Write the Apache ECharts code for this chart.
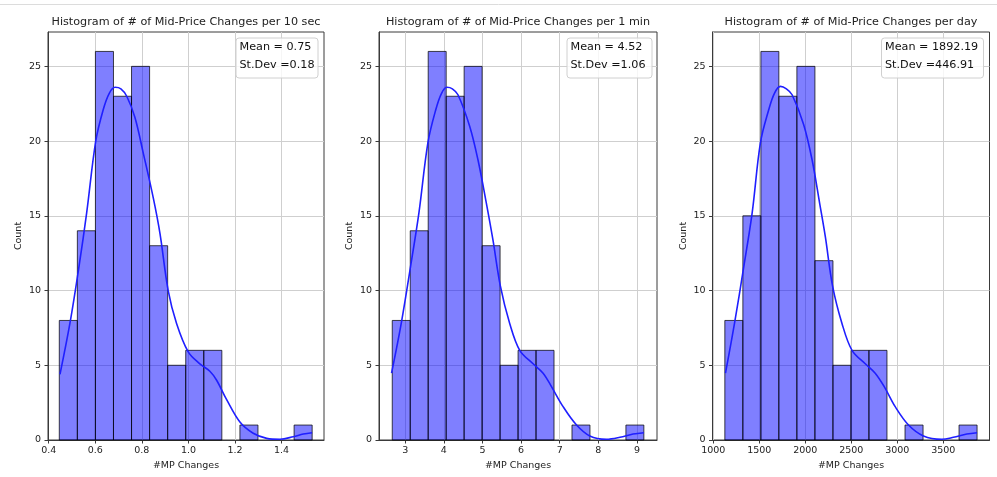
<!DOCTYPE html>
<html><head><meta charset="utf-8">
<script src="https://cdn.jsdelivr.net/npm/echarts@6/dist/echarts.min.js"></script>
<style>html,body{margin:0;padding:0;background:#fff}#c{width:997px;height:477px}</style>
</head><body><div id="c"></div>
<script>
// ---- data ----
const titles = [
  "Histogram of # of Mid-Price Changes per 10 sec",
  "Histogram of # of Mid-Price Changes per 1 min",
  "Histogram of # of Mid-Price Changes per day"
];
const statMean = ["Mean = 0.75", "Mean = 4.52", "Mean = 1892.19"];
const statStd = ["St.Dev =0.18", "St.Dev =1.06", "St.Dev =446.91"];

const edges10s = [0.4455, 0.5230, 0.6006, 0.6781, 0.7557, 0.8332, 0.9108, 0.9883, 1.0659, 1.1434, 1.2210, 1.2985, 1.3761, 1.4536, 1.5312];
const counts10s = [8, 14, 26, 23, 25, 13, 5, 6, 6, 0, 1, 0, 0, 1];
const edges1m = [2.663, 3.129, 3.594, 4.060, 4.525, 4.991, 5.456, 5.922, 6.387, 6.853, 7.318, 7.784, 8.249, 8.715, 9.180];
const counts1m = [8, 14, 26, 23, 25, 13, 5, 6, 6, 0, 1, 0, 0, 1];
const edgesDay = [1126, 1322, 1518, 1713, 1909, 2105, 2301, 2497, 2692, 2888, 3084, 3280, 3476, 3671, 3867];
const countsDay = [8, 15, 26, 23, 25, 12, 5, 6, 6, 0, 1, 0, 0, 1];

const kdeX10s = [0.4485, 0.491, 0.530, 0.563, 0.602, 0.634, 0.660, 0.685, 0.710, 0.735, 0.770, 0.806, 0.849, 0.878, 0.913, 0.949, 0.999, 1.049, 1.092, 1.121, 1.164, 1.221, 1.278, 1.336, 1.393, 1.450, 1.493, 1.531];
const kdeY10s = [4.4, 7.8, 11.6, 15.2, 20.0, 22.1, 23.2, 23.6, 23.5, 23.0, 21.6, 19.2, 16.2, 13.8, 10.0, 7.8, 5.9, 5.1, 4.6, 4.0, 2.7, 1.2, 0.45, 0.11, 0.05, 0.22, 0.4, 0.49];
const kdeX1m = [2.645, 2.896, 3.137, 3.354, 3.587, 3.79, 3.94, 4.08, 4.22, 4.365, 4.668, 4.883, 5.10, 5.27, 5.464, 5.705, 5.965, 6.31, 6.57, 6.787, 7.088, 7.436, 7.78, 8.21, 8.56, 8.90, 9.18];
const kdeY1m = [4.47, 7.8, 11.6, 15.2, 19.9, 22.1, 23.2, 23.6, 23.5, 23.1, 21.0, 18.75, 15.85, 13.4, 10.3, 7.8, 6.0, 5.1, 4.47, 3.57, 2.23, 1.0, 0.27, 0.05, 0.18, 0.4, 0.49];
const kdeXDay = [1133, 1231, 1332, 1423, 1513, 1603, 1665, 1730, 1795, 1857, 1983, 2074, 2156, 2218, 2297, 2399, 2508, 2652, 2760, 2858, 2977, 3122, 3284, 3484, 3610, 3755, 3867];
const kdeYDay = [4.47, 7.8, 11.6, 15.2, 19.9, 22.1, 23.2, 23.66, 23.5, 23.1, 21.1, 18.75, 15.85, 13.6, 10.3, 7.8, 6.0, 5.1, 4.47, 3.57, 2.23, 1.0, 0.27, 0.05, 0.18, 0.4, 0.49];

const xTicks10s = [0.4, 0.6, 0.8, 1.0, 1.2, 1.4];
const xTicks1m = [3, 4, 5, 6, 7, 8, 9];
const xTicksDay = [1000, 1500, 2000, 2500, 3000, 3500];
const yTicks = [0, 5, 10, 15, 20, 25];
const xLabel = "#MP Changes";
const yLabel = "Count";

// ---- layout ----
const FONT = "DejaVu Sans";
const panels = [
  {edges: edges10s, counts: counts10s, kx: kdeX10s, ky: kdeY10s, ticks: xTicks10s, min: 0.397, max: 1.582, dec: 1,
   grid: {left: 48, width: 276}, box: {x: 236, w: 82}},
  {edges: edges1m, counts: counts1m, kx: kdeX1m, ky: kdeY1m, ticks: xTicks1m, min: 2.32, max: 9.52, dec: 0,
   grid: {left: 379, width: 278}, box: {x: 567, w: 85}},
  {edges: edgesDay, counts: countsDay, kx: kdeXDay, ky: kdeYDay, ticks: xTicksDay, min: 992, max: 4002, dec: 0,
   grid: {left: 712.5, width: 277}, box: {x: 881.5, w: 102}}
];
const TOP = 32, HEIGHT = 408;

const grids = [], xAxes = [], yAxes = [], series = [], graphics = [];
graphics.push({type: 'line', shape: {x1: 0, y1: 4.5, x2: 997, y2: 4.5}, style: {stroke: '#dcdcdc', lineWidth: 1}, silent: true});

panels.forEach((p, i) => {
  grids.push({left: p.grid.left, top: TOP, width: p.grid.width, height: HEIGHT, show: true,
    borderColor: '#3a3a3a', borderWidth: 1, backgroundColor: 'transparent', containLabel: false});
  xAxes.push({type: 'value', gridIndex: i, min: p.min, max: p.max,
    name: xLabel, nameLocation: 'middle', nameGap: 20,
    nameTextStyle: {fontFamily: FONT, fontSize: 9.5, color: '#222'},
    axisLine: {show: true, lineStyle: {color: '#3a3a3a', width: 1}},
    axisTick: {show: true, length: 3.5, lineStyle: {color: '#3a3a3a'}, customValues: p.ticks},
    axisLabel: {fontFamily: FONT, fontSize: 9.5, color: '#222', margin: 6, customValues: p.ticks,
      formatter: v => Number(v).toFixed(p.dec)},
    splitLine: {show: true, lineStyle: {color: '#cfcfcf', width: 1}}
  });
  yAxes.push({type: 'value', gridIndex: i, min: 0, max: 27.3,
    name: yLabel, nameLocation: 'middle', nameGap: 24, nameRotate: 90,
    nameTextStyle: {fontFamily: FONT, fontSize: 9.5, color: '#222'},
    axisLine: {show: true, lineStyle: {color: '#3a3a3a', width: 1}},
    axisTick: {show: true, length: 3.5, lineStyle: {color: '#3a3a3a'}, customValues: yTicks},
    axisLabel: {fontFamily: FONT, fontSize: 9.5, color: '#222', margin: 7, customValues: yTicks},
    splitLine: {show: true, lineStyle: {color: '#cfcfcf', width: 1}}
  });
  const binData = p.counts.map((c, k) => [p.edges[k], p.edges[k + 1], c]);
  series.push({type: 'custom', xAxisIndex: i, yAxisIndex: i, data: binData,
    encode: {x: [0, 1], y: 2}, z: 2,
    renderItem: (params, api) => {
      const c = api.value(2);
      if (!c) return null;
      const a = api.coord([api.value(0), 0]);
      const b = api.coord([api.value(1), c]);
      return {type: 'rect', shape: {x: a[0], y: b[1], width: b[0] - a[0], height: a[1] - b[1]},
        style: {fill: 'rgba(0,0,255,0.5)', stroke: 'rgba(0,0,0,0.72)', lineWidth: 1}};
    }
  });
  series.push({type: 'line', xAxisIndex: i, yAxisIndex: i, data: p.kx.map((x, k) => [x, p.ky[k]]),
    smooth: 0.35, showSymbol: false, symbol: 'none', z: 3,
    lineStyle: {color: '#1f1fff', width: 1.6}});
  const cx = p.grid.left + p.grid.width / 2;
  graphics.push({type: 'text', x: cx, y: 22, style: {text: titles[i], fontFamily: FONT, fontSize: 11.2,
    fill: '#222', align: 'center', verticalAlign: 'middle'}, z: 10});
  graphics.push({type: 'rect', shape: {x: p.box.x, y: 38, width: p.box.w, height: 40, r: 3},
    style: {fill: 'rgba(255,255,255,0.8)', stroke: '#d0d0d0', lineWidth: 1}, z: 10});
  graphics.push({type: 'text', x: p.box.x + 3.5, y: 47.5, style: {text: statMean[i], fontFamily: FONT, fontSize: 11.2,
    fill: '#111', align: 'left', verticalAlign: 'middle'}, z: 11});
  graphics.push({type: 'text', x: p.box.x + 3.5, y: 65.5, style: {text: statStd[i], fontFamily: FONT, fontSize: 11.2,
    fill: '#111', align: 'left', verticalAlign: 'middle'}, z: 11});
});

const chart = echarts.init(document.getElementById('c'), null, {renderer: 'canvas'});
chart.setOption({
  animation: false,
  backgroundColor: '#fff',
  grid: grids, xAxis: xAxes, yAxis: yAxes, series: series, graphic: graphics
});
</script></body></html>
